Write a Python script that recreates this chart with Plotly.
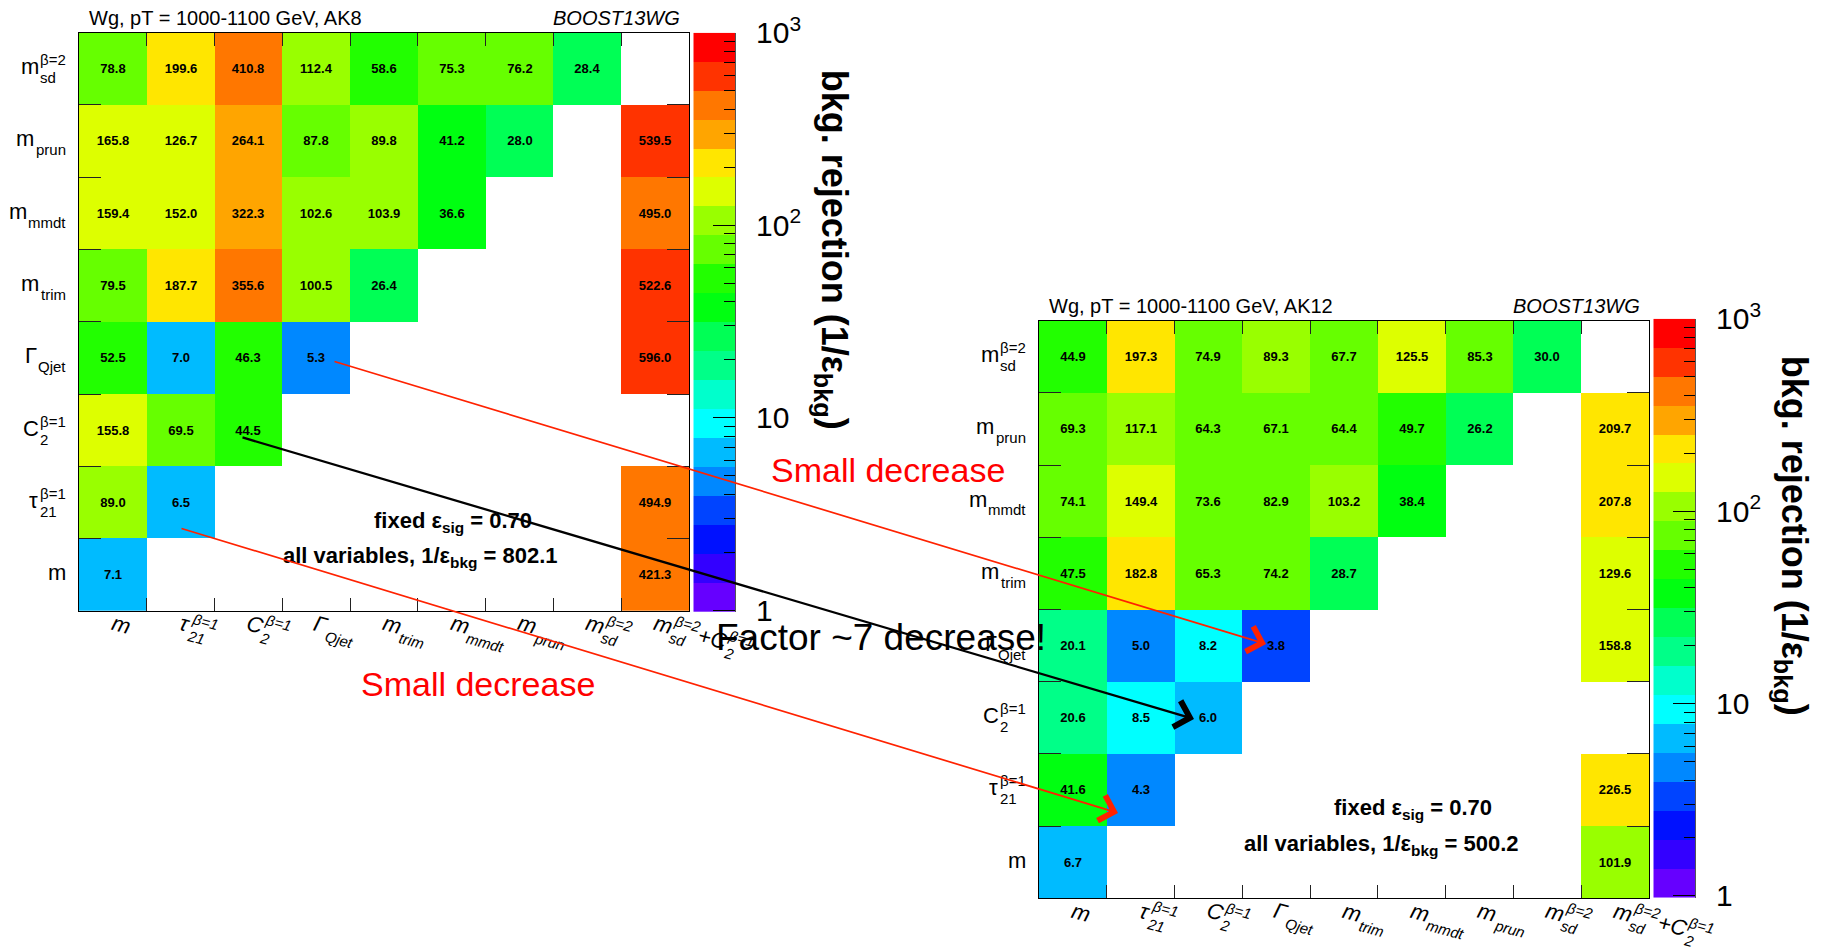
import math
import plotly.graph_objects as go

W, H = 1821, 951
FONT = "Liberation Sans, Arial, Helvetica, sans-serif"

# ---------------- data ----------------
# column labels (x) as (base, subscript, superscript) segments
X_LABELS = [
    [("m", "", "")],
    [("τ", "21", "β=1")],
    [("C", "2", "β=1")],
    [("Γ", "Qjet", "")],
    [("m", "trim", "")],
    [("m", "mmdt", "")],
    [("m", "prun", "")],
    [("m", "sd", "β=2")],
    [("m", "sd", "β=2"), ("+C", "2", "β=1")],
]
# row labels (y), top to bottom
Y_LABELS = [
    [("m", "sd", "β=2")],
    [("m", "prun", "")],
    [("m", "mmdt", "")],
    [("m", "trim", "")],
    [("Γ", "Qjet", "")],
    [("C", "2", "β=1")],
    [("τ", "21", "β=1")],
    [("m", "", "")],
]

# AK8 background rejection, rows top to bottom
AK8_msd   = [78.8, 199.6, 410.8, 112.4, 58.6, 75.3, 76.2, 28.4, None]
AK8_prun  = [165.8, 126.7, 264.1, 87.8, 89.8, 41.2, 28.0, None, 539.5]
AK8_mmdt  = [159.4, 152.0, 322.3, 102.6, 103.9, 36.6, None, None, 495.0]
AK8_trim  = [79.5, 187.7, 355.6, 100.5, 26.4, None, None, None, 522.6]
AK8_qjet  = [52.5, 7.0, 46.3, 5.3, None, None, None, None, 596.0]
AK8_c2    = [155.8, 69.5, 44.5, None, None, None, None, None, None]
AK8_tau21 = [89.0, 6.5, None, None, None, None, None, None, 494.9]
AK8_m     = [7.1, None, None, None, None, None, None, None, 421.3]

# AK12 background rejection, rows top to bottom
AK12_msd   = [44.9, 197.3, 74.9, 89.3, 67.7, 125.5, 85.3, 30.0, None]
AK12_prun  = [69.3, 117.1, 64.3, 67.1, 64.4, 49.7, 26.2, None, 209.7]
AK12_mmdt  = [74.1, 149.4, 73.6, 82.9, 103.2, 38.4, None, None, 207.8]
AK12_trim  = [47.5, 182.8, 65.3, 74.2, 28.7, None, None, None, 129.6]
AK12_qjet  = [20.1, 5.0, 8.2, 3.8, None, None, None, None, 158.8]
AK12_c2    = [20.6, 8.5, 6.0, None, None, None, None, None, None]
AK12_tau21 = [41.6, 4.3, None, None, None, None, None, None, 226.5]
AK12_m     = [6.7, None, None, None, None, None, None, None, 101.9]

ALL_VARS_AK8 = "802.1"
ALL_VARS_AK12 = "500.2"
EPS_SIG = "0.70"

# palette (20 discrete bands, bottom -> top)
PALETTE = ["#6600ff", "#3300ff", "#0011ff", "#0044ff", "#0088ff", "#00bbff",
           "#00ffff", "#00ffcc", "#00ff88", "#00ff55", "#00ff11", "#22ff00",
           "#66ff00", "#99ff00", "#ddff00", "#ffe600", "#ffa500", "#ff7700",
           "#ff3300", "#ff0000"]
ZMIN, ZMAX = -0.01, 3.0
NB = len(PALETTE)
CS = []
for i, c in enumerate(PALETTE):
    CS += [[i / NB, c], [(i + 1) / NB, c]]

# ---------------- geometry (pixels) ----------------
L_PLOT = (79.0, 32.7, 689.0, 611.0)      # left, top, right, bottom
R_PLOT = (1039.0, 320.7, 1649.0, 898.3)
L_CBAR = (693.3, 32.7, 735.0, 612.0)
R_CBAR = (1653.3, 318.7, 1695.0, 897.8)


def xd(a, b):
    return [a / W, b / W]


def yd(top, bottom):
    return [1 - bottom / H, 1 - top / H]


def rows_bottom_up(rows):
    return list(reversed(rows))


def zlog(rows):
    return [[math.log10(v) if v else None for v in r] for r in rows]


def ztext(rows):
    return [[("%.1f" % v) if v else "" for v in r] for r in rows]


AK8 = rows_bottom_up([AK8_msd, AK8_prun, AK8_mmdt, AK8_trim, AK8_qjet, AK8_c2, AK8_tau21, AK8_m])
AK12 = rows_bottom_up([AK12_msd, AK12_prun, AK12_mmdt, AK12_trim, AK12_qjet, AK12_c2, AK12_tau21, AK12_m])

NCOL = len(X_LABELS)
NROW = len(Y_LABELS)

fig = go.Figure()


def add_map(rows, xa, ya):
    fig.add_trace(go.Heatmap(
        x=list(range(NCOL)), y=list(range(NROW)), z=zlog(rows), text=ztext(rows),
        texttemplate="%{text}",
        textfont=dict(family=FONT, size=13, color="black", weight="bold"),
        colorscale=CS, zmin=ZMIN, zmax=ZMAX, showscale=False,
        hoverinfo="skip", xaxis=xa, yaxis=ya))


add_map(AK8, "x", "y")
add_map(AK12, "x2", "y2")

# colour bars as heatmaps on their own axes
edges = [ZMIN + k * (ZMAX - ZMIN) / NB for k in range(NB + 1)]
centers = [[(edges[k] + edges[k + 1]) / 2] for k in range(NB)]
for xa, ya in (("x3", "y3"), ("x4", "y4")):
    fig.add_trace(go.Heatmap(x=[0, 1], y=edges, z=centers, colorscale=CS,
                             zmin=ZMIN, zmax=ZMAX, showscale=False,
                             hoverinfo="skip", xaxis=xa, yaxis=ya))

# canvas trace (pixel coordinates for annotations)
fig.add_trace(go.Scatter(x=[], y=[], xaxis="x5", yaxis="y5", showlegend=False))

minor_vals = [math.log10(k * 10 ** d) for d in range(3) for k in range(2, 10)]


def map_axes(plot):
    l, t, r, b = plot
    xa = dict(domain=xd(l, r), range=[-0.5, NCOL - 0.5], tickmode="array",
              tickvals=[i + 0.5 for i in range(NCOL - 1)], ticks="inside", ticklen=13,
              tickcolor="#222", tickwidth=1, showticklabels=False, showline=True,
              linecolor="black", linewidth=1, mirror="ticks", showgrid=False,
              zeroline=False, fixedrange=True, automargin=False)
    ya = dict(domain=yd(t, b), range=[-0.5, NROW - 0.5], tickmode="array",
              tickvals=[i + 0.5 for i in range(NROW - 1)], ticks="inside", ticklen=22,
              tickcolor="#222", tickwidth=1, showticklabels=False, showline=True,
              linecolor="black", linewidth=1, mirror="ticks", showgrid=False,
              zeroline=False, fixedrange=True, automargin=False)
    return xa, ya


def cbar_axes(cb):
    l, t, r, b = cb
    xa = dict(domain=xd(l, r), range=[0, 1], visible=False, fixedrange=True,
              automargin=False)
    ya = dict(domain=yd(t, b), range=[ZMIN, ZMAX], side="right", tickmode="array",
              tickvals=[0, 1, 2, 3], ticktext=["1", "10", "10<sup>2</sup>", "10<sup>3</sup>"],
              ticks="inside", ticklen=22, tickcolor="black", tickwidth=1,
              minor=dict(tickmode="array", tickvals=minor_vals, ticks="inside",
                         ticklen=11, tickcolor="black", tickwidth=1, showgrid=False),
              tickfont=dict(family=FONT, size=30, color="black"),
              ticklabelstandoff=14, showline=True, linecolor="#555", linewidth=1,
              showgrid=False, zeroline=False, fixedrange=True, automargin=False)
    return xa, ya


x1, y1 = map_axes(L_PLOT)
x2, y2 = map_axes(R_PLOT)
x3, y3 = cbar_axes(L_CBAR)
x4, y4 = cbar_axes(R_CBAR)
x1["anchor"], y1["anchor"] = "y", "x"
x2["anchor"], y2["anchor"] = "y2", "x2"
x3["anchor"], y3["anchor"] = "y3", "x3"
x4["anchor"], y4["anchor"] = "y4", "x4"

# ---------------- annotations ----------------
CW = {'m': .833, 's': .5, 'd': .556, 'p': .556, 'r': .333, 'u': .556, 'n': .556,
      't': .278, 'i': .222, 'Q': .778, 'j': .222, 'e': .556, 'β': .575, '=': .584,
      '1': .556, '2': .556, '+': .584, 'C': .722, 'Γ': .556, 'τ': .48, ' ': .278}


def tw(s, f):
    return sum(CW.get(ch, .55) for ch in s) * f


annots = []


def ann(x, y, text, size, color="black", xanchor="center", yanchor="middle",
        angle=0, bold=False, italic=False):
    t = text
    if bold:
        t = "<b>" + t + "</b>"
    if italic:
        t = "<i>" + t + "</i>"
    annots.append(dict(x=x, y=y, xref="x5", yref="y5", text=t, showarrow=False,
                       font=dict(family=FONT, size=size, color=color),
                       xanchor=xanchor, yanchor=yanchor, textangle=angle,
                       borderpad=0))


def composite(segs, ox, oy, ang, fb, fs, sub_off, sup_off, italic=False, right=False):
    pieces = []
    lx = 0.0
    for base, sub, sup in segs:
        wb = tw(base, fb)
        pieces.append((base, lx, 0.0, wb, fb))
        ws = tw(sub, fs) if sub else 0
        wp = tw(sup, fs) if sup else 0
        if sub:
            pieces.append((sub, lx + wb + 1, sub_off, ws, fs))
        if sup:
            pieces.append((sup, lx + wb + 1, sup_off, wp, fs))
        lx += wb + 1 + max(ws, wp) + (1 if (ws or wp) else -1)
    shift = -lx if right else 0.0
    c, s = math.cos(math.radians(ang)), math.sin(math.radians(ang))
    for text, px, bo, w, f in pieces:
        cx = px + shift + w / 2
        cy = bo - 0.35 * f
        X = ox + cx * c - cy * s
        Y = oy + cx * s + cy * c
        ann(X, Y, text, f, angle=ang, italic=italic)


def plot_labels(plot, cbar, tag, allvar, fixed_xy, all_xy):
    l, t, r, b = plot
    cw = (r - l) / NCOL
    rh = (b - t) / NROW
    for i, segs in enumerate(Y_LABELS):
        composite(segs, l - 12.4, t + (i + 0.5) * rh + 5.5, 0, 22, 15, 8.5, -9.5, right=True)
    for j, segs in enumerate(X_LABELS):
        composite(segs, l + (j + 0.5) * cw - 3, b + 19, 15, 22, 15, 8, -10, italic=True)
    ann(l + 9, t - 15.2, "Wg, pT = 1000-1100 GeV, " + tag, 20, xanchor="left")
    ann(r - 8, t - 15.2, "BOOST13WG", 20, xanchor="right", italic=True)
    cl, ct, cr, cbm = cbar
    ann(cr + 97, ct + 36, "bkg. rejection (1/ε<sub>bkg</sub>)", 36, angle=90,
        yanchor="top", bold=True)
    ann(fixed_xy[0], fixed_xy[1], "fixed ε<sub>sig</sub> = " + EPS_SIG, 22, bold=True)
    ann(all_xy[0], all_xy[1], "all variables, 1/ε<sub>bkg</sub> = " + allvar, 22, bold=True)


plot_labels(L_PLOT, L_CBAR, "AK8", ALL_VARS_AK8, (453, 522), (420, 557))
plot_labels(R_PLOT, R_CBAR, "AK12", ALL_VARS_AK12, (1413, 809), (1381, 845))

ann(888, 470, "Small decrease", 34, color="#ff0000")
ann(478, 684, "Small decrease", 34, color="#ff0000")
ann(881, 637, "Factor ~7 decrease!", 37, color="black")


def arrow(tail, head, color, width, size):
    annots.append(dict(x=head[0], y=head[1], ax=tail[0], ay=tail[1],
                       xref="x5", yref="y5", axref="x5", ayref="y5", text="",
                       showarrow=True, arrowhead=4, arrowsize=size,
                       arrowwidth=width, arrowcolor=color, standoff=0,
                       startstandoff=0))


arrow((333, 361), (1266, 644), "#ff2200", 1.7, 3.0)
arrow((241, 437), (1194, 719), "black", 2.3, 2.3)
arrow((180, 528), (1118, 813), "#ff2200", 1.7, 3.0)

fig.update_layout(
    width=W, height=H, autosize=False,
    margin=dict(l=0, r=0, t=0, b=0, pad=0, autoexpand=False),
    paper_bgcolor="white", plot_bgcolor="rgba(0,0,0,0)",
    showlegend=False,
    xaxis=x1, yaxis=y1, xaxis2=x2, yaxis2=y2,
    xaxis3=x3, yaxis3=y3, xaxis4=x4, yaxis4=y4,
    xaxis5=dict(domain=[0, 1], range=[0, W], visible=False, anchor="y5",
                fixedrange=True, automargin=False),
    yaxis5=dict(domain=[0, 1], range=[H, 0], visible=False, anchor="x5",
                fixedrange=True, automargin=False),
    annotations=annots,
    font=dict(family=FONT),
)

fig.write_html("out.html")
